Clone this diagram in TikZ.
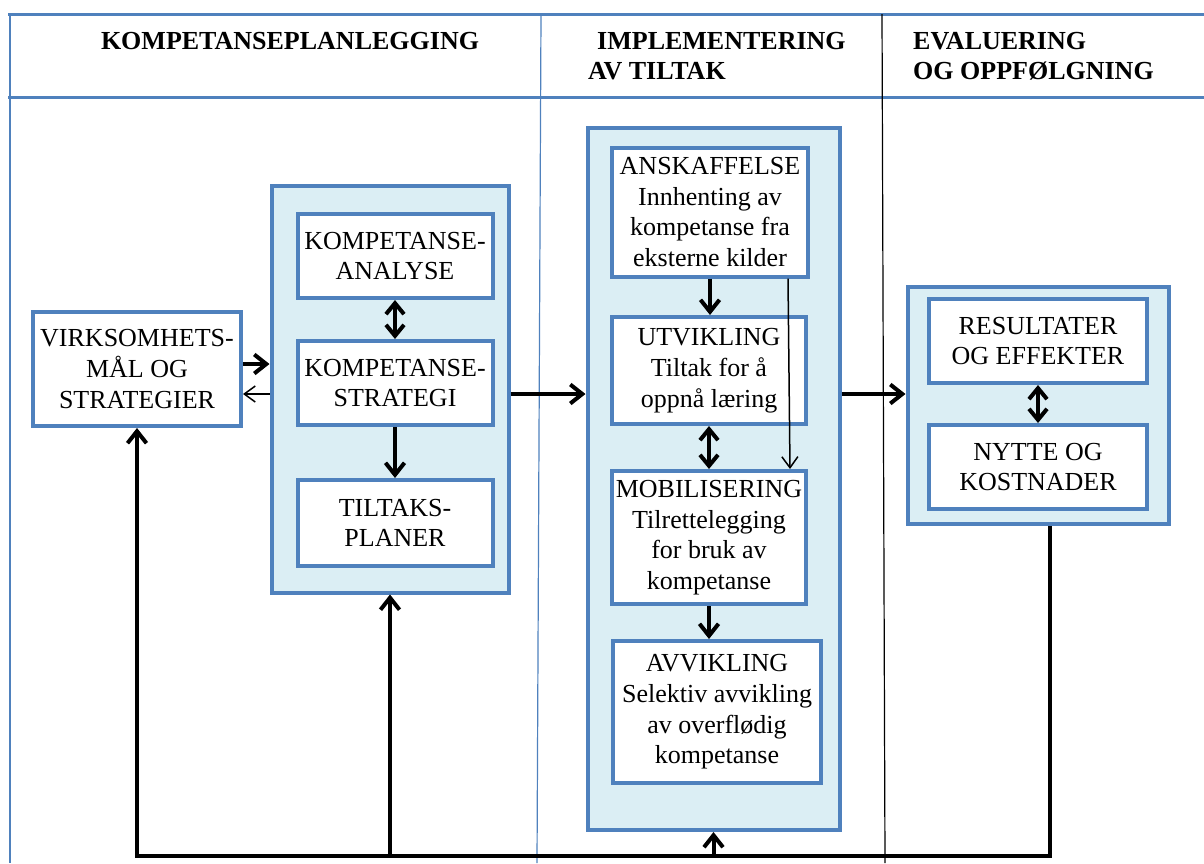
\documentclass[tikz,border=0pt]{standalone}
\usepackage{fontspec}
\setmainfont{Liberation Serif}
\usetikzlibrary{arrows.meta,calc}
\definecolor{bblue}{HTML}{4F81BD}
\definecolor{lblue}{HTML}{DBEEF4}
\begin{document}
\begin{tikzpicture}[x=1pt,y=-1pt,
  grp/.style={draw=bblue, line width=4pt, fill=lblue, inner sep=0pt},
  ibox/.style={draw=bblue, line width=4pt, fill=white, inner sep=0pt, align=center, font=\fontsize{26}{30.7}\selectfont},
  hdr/.style={font=\bfseries\fontsize{26}{30.5}\selectfont, inner sep=0pt, align=left},
  thickarr/.style={line width=4pt, line join=miter, -{Straight Barb[length=12pt,width=19pt]}},
  dblarr/.style={line width=4pt, {Straight Barb[length=11pt,width=18pt]}-{Straight Barb[length=11pt,width=18pt]}},
  thinarr/.style={line width=1.5pt, -{Straight Barb[length=11pt,width=16pt]}},
]
\useasboundingbox (0,0) rectangle (1204,863);
% table
\draw[bblue, line width=3pt] (8,14) -- (1204,14);
\draw[bblue, line width=3pt] (8,97) -- (1204,97);
\draw[bblue, line width=2pt] (10,13) -- (10,863);
\draw[bblue, line width=1.2pt] (541,14) -- (537,863);
\draw[black, line width=1.2pt] (882,14) -- (885,863);
% headers
\node[hdr] (h1) at (290,41) {KOMPETANSEPLANLEGGING};
\node[hdr, anchor=north west] (h2) at (588,32) {\hspace*{9pt}IMPLEMENTERING\\AV TILTAK};
\node[hdr, anchor=north west] (h3) at (913,32) {EVALUERING\\OG OPPFØLGNING};
% groups
\node[grp, minimum width=237pt, minimum height=407pt] (g1) at (390,389) {};
\node[grp, minimum width=252pt, minimum height=702pt] (g2) at (713.5,479) {};
\node[grp, minimum width=261pt, minimum height=237pt] (g3) at (1038,405.5) {};
% boxes
\node[ibox, minimum width=208pt, minimum height=114pt] (virk) at (137,369) {VIRKSOMHETS-\\MÅL OG\\STRATEGIER};
\node[ibox, minimum width=195pt, minimum height=84pt] (ka) at (395,256) {KOMPETANSE-\\ANALYSE};
\node[ibox, minimum width=195pt, minimum height=84pt] (ks) at (395,383) {KOMPETANSE-\\STRATEGI};
\node[ibox, minimum width=195pt, minimum height=86pt] (tp) at (395,523) {TILTAKS-\\PLANER};
\node[ibox, minimum width=196pt, minimum height=129pt] (ansk) at (710,212) {ANSKAFFELSE\\Innhenting av\\kompetanse fra\\eksterne kilder};
\node[ibox, minimum width=194pt, minimum height=107pt] (utv) at (709,370.5) {UTVIKLING\\Tiltak for å\\oppnå læring};
\node[ibox, minimum width=194pt, minimum height=133pt] (mob) at (709,537.5) {MOBILISERING\\Tilrettelegging\\for bruk av\\kompetanse};
\node[ibox, minimum width=208pt, minimum height=142pt] (avv) at (717,712) {AVVIKLING\\Selektiv avvikling\\av overflødig\\kompetanse};
\node[ibox, minimum width=218pt, minimum height=84pt] (res) at (1038,341) {RESULTATER\\OG EFFEKTER};
\node[ibox, minimum width=218pt, minimum height=84pt] (nyt) at (1038,467) {NYTTE OG\\KOSTNADER};
% helper coordinates
\coordinate (yA) at (0,364);
\coordinate (yB) at (0,394);
\coordinate (c1) at (788,0);
\coordinate (c2) at (790,0);
\coordinate (fbR) at (1050,856);
\coordinate (fbL) at (137,856);
% arrows
\draw[thickarr] (virk.east |- yA) -- (g1.west |- yA);
\draw[thinarr] (g1.west |- yB) -- (virk.east |- yB);
\draw[dblarr] (ka.south) -- (ks.north);
\draw[thickarr] (ks.south) -- (tp.north);
\draw[thickarr] (g1.east |- yB) -- (g2.west |- yB);
\draw[thickarr] (ansk.south) -- (ansk.south |- utv.north);
\draw[dblarr] (utv.south) -- (utv.south |- mob.north);
\draw[thickarr] (mob.south) -- (mob.south |- avv.north);
\draw[thinarr] (ansk.south -| c1) -- (mob.north -| c2);
\draw[thickarr] (g2.east |- yB) -- (g3.west |- yB);
\draw[dblarr] (res.south) -- (nyt.north);
% feedback loop
\draw[thickarr] (g3.south -| fbR) -- (fbR) -- (fbL) -- (virk.south);
\draw[thickarr] (g1.south |- fbL) -- (g1.south);
\draw[thickarr] (g2.south |- fbL) -- (g2.south);
\end{tikzpicture}
\end{document}
